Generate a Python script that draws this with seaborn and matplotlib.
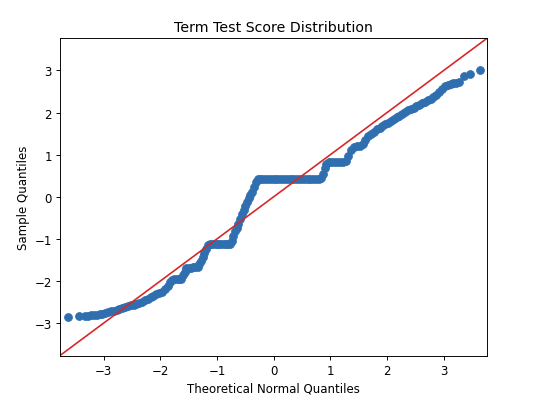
import pandas as pd
import seaborn as sns
import matplotlib.pyplot as plt

# theoretical normal quantiles (x) and sample quantiles (y)
theoretical = [
    -3.62, -3.43, -3.32, -3.27, -3.22, -3.17, -3.12, -3.07, -3.02, -2.97,
    -2.92, -2.87, -2.82, -2.77, -2.72, -2.67, -2.62, -2.57, -2.52, -2.47,
    -2.42, -2.37, -2.32, -2.27, -2.22, -2.17, -2.12, -2.07, -2.02, -1.97,
    -1.92, -1.87, -1.83, -1.79, -1.75, -1.71, -1.67, -1.63, -1.60, -1.57,
    -1.54, -1.50, -1.46, -1.42, -1.38, -1.34, -1.31, -1.28, -1.25, -1.22,
    -1.19, -1.16, -1.12, -1.08, -1.04, -1.00, -0.96, -0.92, -0.88, -0.84,
    -0.80, -0.77, -0.74, -0.71, -0.68, -0.65, -0.62, -0.59, -0.56, -0.53,
    -0.50, -0.47, -0.44, -0.41, -0.38, -0.35, -0.32, -0.28, -0.24, -0.20,
    -0.15, -0.10, -0.05, 0.00, 0.05, 0.10, 0.15, 0.20, 0.25, 0.30,
    0.35, 0.40, 0.45, 0.50, 0.55, 0.60, 0.65, 0.70, 0.75, 0.80,
    0.84, 0.87, 0.90, 0.93, 0.97, 1.02, 1.07, 1.12, 1.17, 1.22,
    1.27, 1.32, 1.37, 1.42, 1.47, 1.52, 1.57, 1.62, 1.67, 1.72,
    1.77, 1.82, 1.87, 1.92, 1.97, 2.02, 2.07, 2.12, 2.17, 2.22,
    2.27, 2.32, 2.37, 2.42, 2.47, 2.52, 2.57, 2.62, 2.67, 2.72,
    2.77, 2.82, 2.87, 2.92, 2.97, 3.02, 3.07, 3.12, 3.17, 3.22,
    3.27, 3.36, 3.46, 3.64,
]
sample = [
    -2.85, -2.83, -2.82, -2.82, -2.81, -2.81, -2.80, -2.79, -2.78, -2.76,
    -2.74, -2.72, -2.70, -2.68, -2.66, -2.64, -2.62, -2.60, -2.58, -2.56,
    -2.54, -2.52, -2.49, -2.46, -2.43, -2.39, -2.35, -2.31, -2.29, -2.25,
    -2.19, -2.12, -2.03, -1.97, -1.96, -1.96, -1.96, -1.94, -1.86, -1.78,
    -1.70, -1.68, -1.68, -1.67, -1.67, -1.66, -1.60, -1.52, -1.43, -1.34,
    -1.24, -1.15, -1.12, -1.12, -1.12, -1.12, -1.12, -1.12, -1.12, -1.12,
    -1.12, -1.11, -1.05, -0.93, -0.82, -0.73, -0.64, -0.52, -0.42, -0.32,
    -0.22, -0.12, -0.04, 0.04, 0.12, 0.24, 0.35, 0.42, 0.43, 0.43,
    0.43, 0.43, 0.43, 0.43, 0.43, 0.43, 0.43, 0.43, 0.43, 0.43,
    0.43, 0.43, 0.43, 0.43, 0.43, 0.43, 0.43, 0.43, 0.43, 0.43,
    0.45, 0.55, 0.68, 0.79, 0.83, 0.83, 0.83, 0.83, 0.83, 0.83,
    0.85, 0.98, 1.12, 1.19, 1.20, 1.21, 1.25, 1.36, 1.45, 1.50,
    1.55, 1.60, 1.64, 1.68, 1.72, 1.76, 1.80, 1.85, 1.89, 1.93,
    1.97, 2.01, 2.05, 2.09, 2.12, 2.16, 2.19, 2.23, 2.26, 2.29,
    2.32, 2.36, 2.42, 2.49, 2.56, 2.62, 2.66, 2.68, 2.70, 2.71,
    2.72, 2.88, 2.92, 3.02,
]

axis_limits = (-3.77, 3.77)


def main() -> None:
    df = pd.DataFrame({'theoretical': theoretical, 'sample': sample})

    fig = plt.figure(figsize=(6.4, 4.764), dpi=84.375)
    ax = fig.add_axes([0.111, 0.113, 0.7915, 0.79])

    point_color = '#2f6fb0'
    sns.scatterplot(data=df, x='theoretical', y='sample', ax=ax,
                    color=point_color, edgecolor=point_color, s=46, linewidth=0.6)

    # 45 degree reference line
    ax.axline((0, 0), slope=1, color='#d62728', linewidth=1.4)

    ax.set_xlim(axis_limits)
    ax.set_ylim(axis_limits)
    ax.set_xticks([-3, -2, -1, 0, 1, 2, 3])
    ax.set_yticks([-3, -2, -1, 0, 1, 2, 3])
    ax.set_xlabel('Theoretical Normal Quantiles')
    ax.set_ylabel('Sample Quantiles')
    ax.set_title('Term Test Score Distribution')

    fig.savefig('out.png', dpi=84.375)


if __name__ == "__main__":
    main()
